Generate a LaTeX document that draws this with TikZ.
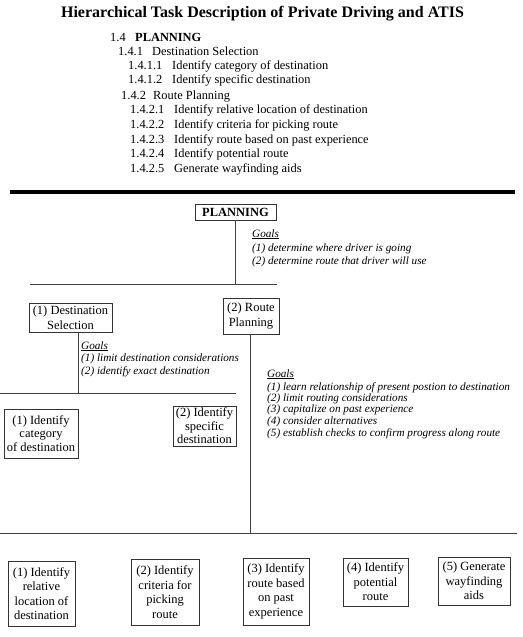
\documentclass[tikz,border=0pt]{standalone}
\usepackage{fontspec}
\setmainfont{Liberation Serif}
\begin{document}
\begin{tikzpicture}[x=1pt,y=-1pt,
  box/.style={draw=black!80,line width=0.7pt,align=center,inner sep=1pt,font=\fontsize{12.5}{14.5}\selectfont},
  outl/.style={anchor=base west,inner sep=0pt,font=\fontsize{12.4}{13}\selectfont},
  goal/.style={anchor=base west,inner sep=0pt,font=\fontsize{11.2}{12}\selectfont\itshape},
  conn/.style={draw=black!75,line width=0.6pt}]
\useasboundingbox (0,0) rectangle (522,637);
% title
\node[anchor=base,inner sep=0pt,font=\fontsize{16}{17}\selectfont\bfseries] (title) at (262.5,17) {Hierarchical Task Description of Private Driving and ATIS};
% outline
\node[outl] (o1) at (110,41) {\makebox[25pt][l]{1.4}\textbf{PLANNING}};
\node[outl] (o2) at (118,55) {\makebox[34pt][l]{1.4.1}Destination Selection};
\node[outl] (o3) at (128,69) {\makebox[44pt][l]{1.4.1.1}Identify category of destination};
\node[outl] (o4) at (128,83.5) {\makebox[44pt][l]{1.4.1.2}Identify specific destination};
\node[outl] (o5) at (121,99) {\makebox[32pt][l]{1.4.2}Route Planning};
\node[outl] (o6) at (130,113) {\makebox[44pt][l]{1.4.2.1}Identify relative location of destination};
\node[outl] (o7) at (130,128) {\makebox[44pt][l]{1.4.2.2}Identify criteria for picking route};
\node[outl] (o8) at (130,143) {\makebox[44pt][l]{1.4.2.3}Identify route based on past experience};
\node[outl] (o9) at (130,157.5) {\makebox[44pt][l]{1.4.2.4}Identify potential route};
\node[outl] (o10) at (130,172) {\makebox[44pt][l]{1.4.2.5}Generate wayfinding aids};
% thick rule
\coordinate (r1) at (10,192);
\coordinate (r2) at (515,192);
\draw[line width=4pt] (r1) -- (r2);
% planning
\node[box,font=\fontsize{12.5}{14}\selectfont\bfseries,minimum width=81pt,minimum height=16pt] (plan) at (235.5,212) {PLANNING};
\coordinate (p1) at (235,284);
\coordinate (h1a) at (30,284);
\coordinate (h1b) at (277,284);
\draw[conn] (plan.south -| p1) -- (p1);
\draw[conn] (h1a) -- (h1b);
\node[goal] (g0) at (252,237) {\underline{Goals}};
\node[goal] (g1) at (252,251) {(1) determine where driver is going};
\node[goal] (g2) at (252,264.5) {(2) determine route that driver will use};
% level 2
\node[box,minimum width=83pt,minimum height=29pt] (dest) at (70.5,317.5) {(1) Destination\\Selection};
\node[box,minimum width=56pt,minimum height=36pt] (route) at (251,316) {(2) Route\\Planning};
\coordinate (d1) at (78,393);
\coordinate (h2a) at (0,393);
\coordinate (h2b) at (236,393);
\draw[conn] (dest.south -| d1) -- (d1);
\draw[conn] (h2a) -- (h2b);
\node[goal] (dg0) at (81,349) {\underline{Goals}};
\node[goal] (dg1) at (81,361) {(1) limit destination considerations};
\node[goal] (dg2) at (81,374) {(2) identify exact destination};
\coordinate (rt1) at (250,533);
\coordinate (h3a) at (0,533);
\coordinate (h3b) at (517,533);
\draw[conn] (route.south -| rt1) -- (rt1);
\draw[conn] (h3a) -- (h3b);
\node[goal] (rg0) at (267,377) {\underline{Goals}};
\node[goal] (rg1) at (267,390) {(1) learn relationship of present postion to destination};
\node[goal] (rg2) at (267,401) {(2) limit routing considerations};
\node[goal] (rg3) at (267,412.5) {(3) capitalize on past experience};
\node[goal] (rg4) at (267,424) {(4) consider alternatives};
\node[goal] (rg5) at (267,436) {(5) establish checks to confirm progress along route};
% level 3
\node[box,font=\fontsize{12.5}{13.5}\selectfont,minimum width=74pt,minimum height=49pt] (cat) at (41,433.5) {(1) Identify\\category\\of destination};
\node[box,font=\fontsize{12.5}{13.5}\selectfont,minimum width=63pt,minimum height=40pt] (spec) at (204.5,426) {(2) Identify\\specific\\destination};
% bottom
\node[box,minimum width=67pt,minimum height=65pt] (b1) at (41.5,593.5) {(1) Identify\\relative\\location of\\destination};
\node[box,minimum width=68pt,minimum height=66pt] (b2) at (165,592) {(2) Identify\\criteria for\\picking\\route};
\node[box,minimum width=66pt,minimum height=67pt] (b3) at (276,591.5) {(3) Identify\\route based\\on past\\experience};
\node[box,minimum width=65pt,minimum height=48pt] (b4) at (375.5,582) {(4) Identify\\potential\\route};
\node[box,minimum width=72pt,minimum height=48pt] (b5) at (474,581) {(5) Generate\\wayfinding\\aids};
\end{tikzpicture}
\end{document}
